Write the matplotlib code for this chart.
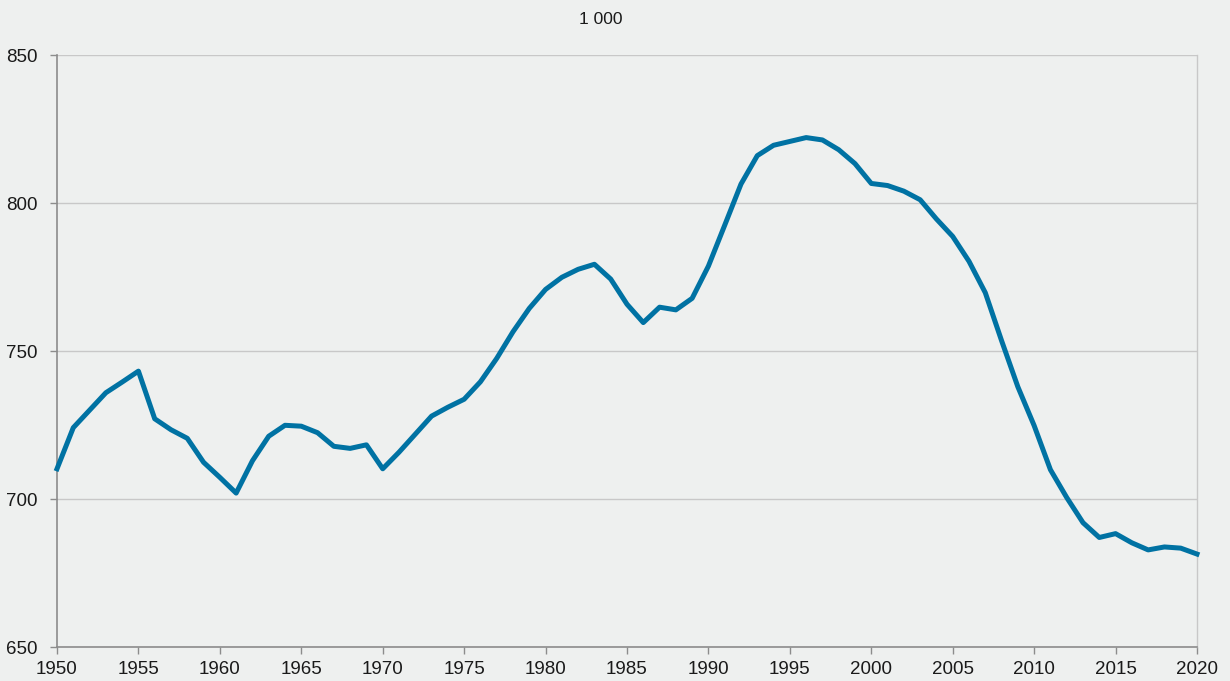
import numpy as np
import matplotlib.pyplot as plt

plt.rcParams['font.family'] = ['Liberation Sans', 'DejaVu Sans']

years = list(range(1950, 2021))
values = [
    710.2, 724.1, 730.0, 735.9, 739.5, 743.2, 727.1, 723.4, 720.5, 712.4,
    707.3, 702.0, 712.9, 721.2, 724.9, 724.6, 722.4, 717.8, 717.1, 718.3,
    710.2, 715.8, 721.9, 728.0, 731.0, 733.7, 739.6, 747.5, 756.5, 764.4,
    770.8, 774.9, 777.6, 779.3, 774.3, 765.8, 759.6, 764.8, 763.9, 767.8,
    778.7, 792.5, 806.4, 816.0, 819.5, 820.8, 822.1, 821.3, 818.0, 813.3,
    806.6, 805.9, 804.0, 801.1, 794.6, 788.7, 780.3, 769.7, 753.5, 737.9,
    724.8, 709.9, 700.5, 692.0, 687.0, 688.3, 685.2, 682.8, 683.8, 683.4,
    681.4,
]
x_ticks = list(range(1950, 2021, 5))
y_ticks = [650, 700, 750, 800, 850]

bg = '#eef0ef'
fig = plt.figure(figsize=(12.3, 6.81), dpi=100, facecolor=bg)
ax = fig.add_axes([57 / 1230, 34 / 681, 1140 / 1230, 592 / 681])
ax.set_facecolor(bg)

ax.plot(years, values, color='#0072a3', lw=3.6, solid_joinstyle='round', clip_on=False, zorder=3)

ax.set_xlim(1950, 2020)
ax.set_ylim(650, 850)
ax.set_xticks(x_ticks)
ax.set_yticks(y_ticks)
ax.grid(axis='y', color='#c8c8c8', lw=1)
ax.set_axisbelow(True)

for s in ['left', 'bottom']:
    ax.spines[s].set_color('#8c8c8c')
    ax.spines[s].set_linewidth(1.2)
ax.spines['top'].set_visible(False)
ax.spines['right'].set_color('#c8c8c8')
ax.spines['right'].set_linewidth(1)

ax.tick_params(axis='both', colors='#8c8c8c', labelcolor='#1a1a1a', labelsize=13.5, length=5, width=1)
ax.tick_params(axis='y', pad=9)
ax.tick_params(axis='x', pad=5)

fig.text(601 / 1230, 1 - 20 / 681, '1 000', ha='center', va='center', fontsize=12.5, color='#1a1a1a')

fig.savefig('out.png', dpi=100, facecolor=bg)
